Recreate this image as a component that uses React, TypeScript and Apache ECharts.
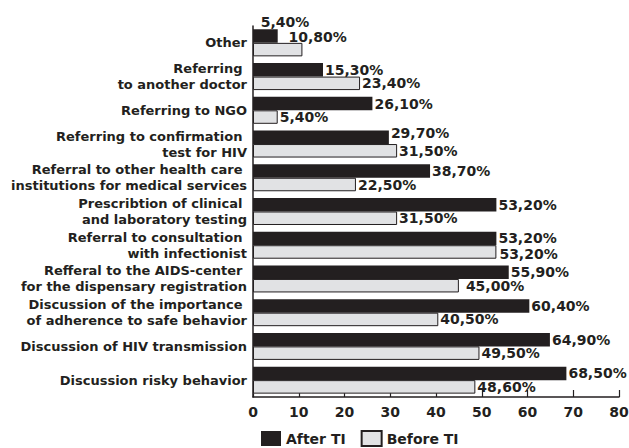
import React, { useEffect, useRef } from "react";
import * as echarts from "echarts";

const categories = [
  "Discussion risky behavior",
  "Discussion of HIV transmission",
  "Discussion of the importance \nof adherence to safe behavior",
  "Refferal to the AIDS-center \nfor the dispensary registration",
  "Referral to consultation \nwith infectionist",
  "Prescribtion of clinical \nand laboratory testing",
  "Referral to other health care \ninstitutions for medical services",
  "Referring to confirmation \ntest for HIV",
  "Referring to NGO",
  "Referring \nto another doctor",
  "Other",
];
const afterTI = [68.5, 64.9, 60.4, 55.9, 53.2, 53.2, 38.7, 29.7, 26.1, 15.3, 5.4];
const beforeTI = [48.6, 49.5, 40.5, 45.0, 53.2, 31.5, 22.5, 31.5, 5.4, 23.4, 10.8];
const xTicks = [0, 10, 20, 30, 40, 50, 60, 70, 80];
const seriesNames = ["After TI", "Before TI"];

const FONT = "'DejaVu Sans', 'Liberation Sans', Arial, sans-serif";
const fmt = (v: number) => v.toFixed(2).replace(".", ",") + "%";

export default function App() {
  const ref = useRef<HTMLDivElement>(null);
  useEffect(() => {
    if (!ref.current) return;
    const chart = echarts.init(ref.current, undefined, { renderer: "svg" });
    // label nudges (style only), keyed by category index
    const afterNudge: Record<number, number[]> = {
      10: [-19, -14],
      7: [0, -4],
    };
    const beforeNudge: Record<number, number[]> = {
      10: [-16, -13],
      4: [1, 2],
      3: [5, 0],
    };
    const labelBase = {
      show: true,
      position: "right" as const,
      distance: 2,
      color: "#231f20",
      fontFamily: FONT,
      fontWeight: "bold" as const,
      fontSize: 14,
      formatter: (p: any) => fmt(p.value),
    };
    const mk = (arr: number[], nudge: Record<number, number[]>) =>
      arr.map((v, i) => (nudge[i] ? { value: v, label: { offset: nudge[i] } } : { value: v }));
    chart.setOption({
      animation: false,
      backgroundColor: "#ffffff",
      grid: {
        left: 253,
        right: 10,
        top: 26,
        bottom: 51,
        containLabel: false,
        outerBoundsMode: "none",
      },
      legend: {
        bottom: 1,
        left: 261,
        padding: 0,
        itemWidth: 20,
        itemHeight: 15,
        itemGap: 15,
        icon: "rect",
        textStyle: { fontFamily: FONT, fontWeight: "bold", fontSize: 14, color: "#231f20" },
        data: seriesNames,
      },
      xAxis: {
        type: "value",
        min: xTicks[0],
        max: xTicks[xTicks.length - 1],
        interval: 10,
        splitLine: { show: false },
        axisLine: { show: true, lineStyle: { color: "#231f20", width: 1.5 } },
        axisTick: { show: true, inside: true, length: 7, lineStyle: { color: "#231f20", width: 1.2 } },
        axisLabel: {
          color: "#231f20",
          fontFamily: FONT,
          fontWeight: "bold",
          fontSize: 14,
          margin: 8,
        },
      },
      yAxis: {
        type: "category",
        data: categories,
        axisLine: { show: true, lineStyle: { color: "#231f20", width: 1.5 } },
        axisTick: { show: false },
        axisLabel: {
          color: "#231f20",
          fontFamily: FONT,
          fontWeight: "bold",
          fontSize: 13,
          lineHeight: 16,
          margin: 6,
          align: "right",
        },
      },
      series: [
        {
          name: seriesNames[0],
          type: "bar",
          barGap: "0%",
          barCategoryGap: "20%",
          itemStyle: { color: "#231f20" },
          data: mk(afterTI, afterNudge),
          label: labelBase,
        },
        {
          name: seriesNames[1],
          type: "bar",
          itemStyle: { color: "#e1e2e4", borderColor: "#231f20", borderWidth: 1 },
          data: mk(beforeTI, beforeNudge),
          label: labelBase,
        },
      ],
    });
    return () => chart.dispose();
  }, []);
  return (
    <div
      ref={ref}
      style={{ position: "fixed", left: 0, top: 0, width: 629, height: 448 }}
    />
  );
}
